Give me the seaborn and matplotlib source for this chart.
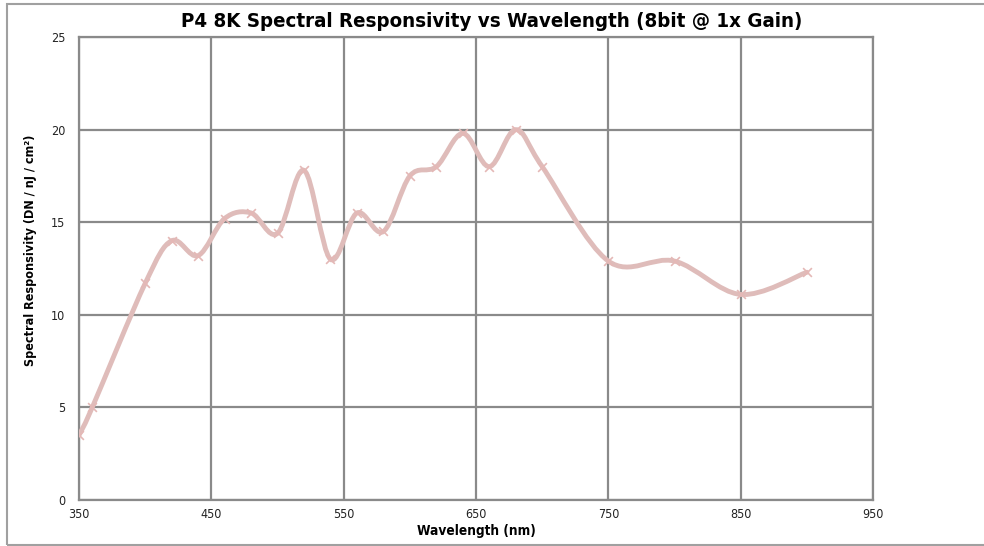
import numpy as np
import pandas as pd
import seaborn as sns
import matplotlib.pyplot as plt
from matplotlib.patches import Rectangle, PathPatch
from matplotlib.path import Path

wavelength = [350, 360, 400, 420, 440, 460, 480, 500, 520, 540, 560, 580,
              600, 620, 640, 660, 680, 700, 750, 800, 850, 900]
responsivity = [3.5, 5.0, 11.7, 14.0, 13.2, 15.2, 15.5, 14.4, 17.8, 13.0, 15.5, 14.5,
                17.5, 18.0, 19.8, 18.0, 20.0, 18.0, 12.9, 12.9, 11.1, 12.3]
x_ticks = [350, 450, 550, 650, 750, 850, 950]
y_ticks = [0, 5, 10, 15, 20, 25]

df = pd.DataFrame({"Wavelength": wavelength, "Responsivity": responsivity})

sns.set_style("white")
plt.rcParams['font.family'] = ['DejaVu Sans']
plt.rcParams['font.stretch'] = 'condensed'
plt.rcParams['text.color'] = 'black'
plt.rcParams['axes.labelcolor'] = 'black'

fig = plt.figure(figsize=(9.84, 5.46), dpi=100)
ax = fig.add_axes([0.0803, 0.0842, 0.807, 0.848])

line_col = "#dfbcba"


def smooth_path(xs, ys):
    # excel style smoothed line: cubic bezier segments through the points
    p = np.column_stack([xs, ys]).astype(float)
    verts = [p[0]]
    codes = [Path.MOVETO]
    n = len(p)
    for i in range(n - 1):
        p0 = p[i - 1] if i > 0 else p[i]
        p3 = p[i + 2] if i + 2 < n else p[i + 1]
        c1 = p[i] + (p[i + 1] - p0) / 6
        c2 = p[i + 1] - (p3 - p[i]) / 6
        verts += [c1, c2, p[i + 1]]
        codes += [Path.CURVE4] * 3
    return Path(verts, codes)


ax.add_patch(PathPatch(smooth_path(df["Wavelength"], df["Responsivity"]), fill=False,
                       edgecolor=line_col, linewidth=3.5, capstyle="round", zorder=3))
sns.scatterplot(data=df, x="Wavelength", y="Responsivity", ax=ax, marker="x", s=40,
                color="#e4b8b6", linewidth=1.2, zorder=4)

ax.set_xlim(350, 950)
ax.set_ylim(0, 25)
ax.set_xticks(x_ticks)
ax.set_yticks(y_ticks)
ax.set_xticklabels([str(t) for t in x_ticks], fontsize=9)
ax.set_yticklabels([str(t) for t in y_ticks], fontsize=9)
ax.tick_params(length=0, pad=10, labelcolor="#222222")
ax.tick_params(axis='x', pad=6)
ax.grid(True, color="#8a8a8a", linewidth=1.6)
for s in ax.spines.values():
    s.set_color("#8a8a8a")
    s.set_linewidth(1.6)

ax.set_xlabel("Wavelength (nm)", fontsize=9.8, fontweight="bold", labelpad=2)
ax.set_ylabel("Spectral Responsivity (DN / nJ / cm²)", fontsize=9, fontweight="bold")
ax.yaxis.set_label_coords(-0.053, 0.54)
fig.suptitle("P4 8K Spectral Responsivity vs Wavelength (8bit @ 1x Gain)",
             fontsize=14.7, fontweight="bold", x=0.5, y=0.978)

# outer frame
fig.patches.append(Rectangle((7 / 984, 1.5 / 546), 1.0, 541 / 546, transform=fig.transFigure,
                             fill=False, edgecolor="#a0a0a0", linewidth=1.5))

fig.savefig("out.png", dpi=100)
